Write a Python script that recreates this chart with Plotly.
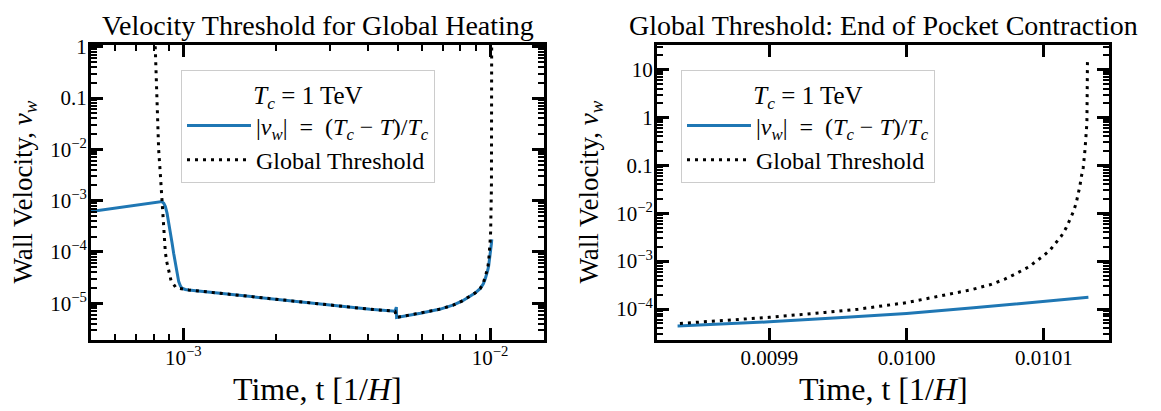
import plotly.graph_objects as go

# ---------------- data ----------------
# |v_w| = (T_c - T)/T_c   (time in units of 1/H)
t_vw = [5.0e-4, 8.52e-4, 8.64e-4, 8.74e-4, 8.85e-4, 8.96e-4, 9.07e-4, 9.19e-4,
        9.30e-4, 9.42e-4, 9.49e-4, 9.58e-4, 9.66e-4, 9.78e-4, 9.90e-4, 1.015e-3,
        1.041e-3, 4.07e-3, 4.90e-3, 4.95e-3, 4.96e-3,
        5.93e-3, 6.89e-3, 7.61e-3, 8.12e-3, 8.63e-3, 8.96e-3, 9.30e-3, 9.51e-3,
        9.65e-3, 9.75e-3,
        0.0098332, 0.0099, 0.0099501, 0.0100, 0.0100489, 0.0101, 0.0101325]
v_vw = [6.12e-4, 9.6e-4, 8.86e-4, 7.67e-4, 5.70e-4, 3.86e-4, 2.32e-4, 1.50e-4,
        9.46e-5, 6.11e-5, 4.47e-5, 3.31e-5, 2.64e-5, 2.20e-5, 1.96e-5, 1.86e-5,
        1.82e-5, 7.63e-6, 7.0e-6, 8.4e-6, 5.3e-6,
        6.38e-6, 7.7e-6, 9.27e-6, 1.11e-5, 1.39e-5, 1.6e-5, 1.95e-5, 2.4e-5,
        3.0e-5, 3.6e-5,
        4.4e-5, 5.4e-5, 6.6e-5, 8.1e-5, 1.06e-4, 1.42e-4, 1.75e-4]

# Global threshold
t_thr = [8.05e-4, 8.10e-4, 8.17e-4, 8.24e-4, 8.31e-4, 8.41e-4, 8.48e-4, 8.52e-4,
         8.59e-4, 8.67e-4, 8.74e-4, 8.85e-4, 8.96e-4, 9.12e-4, 9.47e-4, 1.0e-3,
         1.041e-3, 4.07e-3, 4.90e-3, 4.96e-3, 5.93e-3, 6.89e-3, 7.61e-3, 8.12e-3,
         8.63e-3, 8.96e-3, 9.30e-3, 9.51e-3, 9.65e-3, 9.75e-3,
         0.0098349, 0.0099, 0.0099405, 0.0099646, 0.0099995, 0.0100296, 0.0100465,
         0.0100607, 0.0100716, 0.0100776, 0.0100837, 0.0100892, 0.0100945,
         0.0100996, 0.0101046, 0.010109, 0.0101128, 0.0101162, 0.0101191,
         0.0101215, 0.0101236, 0.0101251, 0.0101263, 0.0101273, 0.0101287,
         0.01013, 0.0101307, 0.0101314, 0.0101316, 0.0101318]
v_thr = [3.0, 0.96, 0.168, 0.0377, 9.8e-3, 3.48e-3, 1.62e-3, 6.6e-4,
         3.13e-4, 1.5e-4, 9.6e-5, 6.1e-5, 4.14e-5, 2.76e-5, 2.0e-5, 1.88e-5,
         1.82e-5, 7.63e-6, 7.0e-6, 5.3e-6, 6.38e-6, 7.7e-6, 9.27e-6, 1.11e-5,
         1.39e-5, 1.6e-5, 1.95e-5, 2.5e-5, 3.3e-5, 4.0e-5,
         5.0e-5, 6.7e-5, 8.5e-5, 9.9e-5, 1.35e-4, 1.96e-4, 2.5e-4,
         3.2e-4, 4.2e-4, 5.1e-4, 6.3e-4, 7.6e-4, 1.0e-3,
         1.28e-3, 1.71e-3, 2.39e-3, 3.34e-3, 4.9e-3, 7.2e-3,
         0.0106, 0.0163, 0.025, 0.037, 0.057, 0.088,
         0.21, 0.47, 0.76, 3.0, 14.6]

zoom_tmin = 0.00983   # start of the zoomed (right) panel

left_xtick_vals = [1e-3, 1e-2]
left_xtick_text = ["10<sup>−3</sup>", "10<sup>−2</sup>"]
left_ytick_vals = [1e-5, 1e-4, 1e-3, 1e-2, 0.1, 1]
left_ytick_text = ["10<sup>−5</sup>", "10<sup>−4</sup>", "10<sup>−3</sup>",
                   "10<sup>−2</sup>", "0.1", "1"]
right_xtick_vals = [0.0099, 0.0100, 0.0101]
right_xtick_text = ["0.0099", "0.0100", "0.0101"]
right_ytick_vals = [1e-4, 1e-3, 1e-2, 0.1, 1, 10]
right_ytick_text = ["10<sup>−4</sup>", "10<sup>−3</sup>", "10<sup>−2</sup>",
                    "0.1", "1", "10"]

titles = ["Velocity Threshold for Global Heating",
          "Global Threshold: End of Pocket Contraction"]
xlabel = "Time, t [1/<i>H</i>]"
ylabel = "Wall Velocity, <i>v</i><sub><i>w</i></sub>"
legend_title = "<i>T</i><sub><i>c</i></sub> = 1 TeV"
name_vw = ("|<i>v</i><sub><i>w</i></sub>|\u2002=\u2002(<i>T</i><sub><i>c</i></sub>"
           " − <i>T</i>)/<i>T</i><sub><i>c</i></sub>")
name_thr = "Global Threshold"

# ---------------- figure ----------------
OFF = 8                      # page body margin of the html page
W, H = 1161 - OFF, 411 - OFF
FONT = "Liberation Serif, Times New Roman, serif"
BLUE = "#1f77b4"


def px_x(p):
    return (p - OFF) / W


def px_y(p):
    return 1 - (p - OFF) / H


def log_minor(lo, hi):
    return [k * 10.0 ** n for n in range(lo, hi) for k in range(2, 10)]


sub_t_vw = [t for t in t_vw if t >= zoom_tmin]
sub_v_vw = [v for t, v in zip(t_vw, v_vw) if t >= zoom_tmin]
sub_t_thr = [t for t in t_thr if t >= zoom_tmin]
sub_v_thr = [v for t, v in zip(t_thr, v_thr) if t >= zoom_tmin]

fig = go.Figure()
line_vw = dict(color=BLUE, width=3)
line_thr = dict(color="black", width=3, dash="3px,5px")

fig.add_trace(go.Scatter(x=t_vw, y=v_vw, mode="lines", line=line_vw, name=name_vw,
                         xaxis="x", yaxis="y", legend="legend"))
fig.add_trace(go.Scatter(x=t_thr, y=v_thr, mode="lines", line=line_thr, name=name_thr,
                         xaxis="x", yaxis="y", legend="legend"))
fig.add_trace(go.Scatter(x=sub_t_vw, y=sub_v_vw, mode="lines", line=line_vw, name=name_vw,
                         xaxis="x2", yaxis="y2", legend="legend2"))
fig.add_trace(go.Scatter(x=sub_t_thr, y=sub_v_thr, mode="lines", line=line_thr, name=name_thr,
                         xaxis="x2", yaxis="y2", legend="legend2"))

px_l, px_r = 91, 544
px2_l, px2_r = 657, 1109
py_t, py_b = 45, 340
ydom = [px_y(py_b), px_y(py_t)]

common = dict(showline=True, linewidth=3, linecolor="black", mirror="allticks",
              ticks="inside", ticklen=12, tickwidth=2.5, tickcolor="black",
              showgrid=False, zeroline=False, ticklabelstandoff=-3,
              tickfont=dict(family=FONT, size=21, color="black"),
              automargin=False)
minor = dict(ticks="inside", ticklen=6, tickwidth=1.5, tickcolor="black",
             tickmode="array", showgrid=False)

fig.update_layout(
    width=W, height=H,
    margin=dict(l=0, r=0, t=0, b=0),
    paper_bgcolor="white", plot_bgcolor="white",
    font=dict(family=FONT, color="black"),
    xaxis=dict(common, type="log", domain=[px_x(px_l), px_x(px_r)],
               range=[-3.301, -1.824], anchor="y",
               tickmode="array", tickvals=left_xtick_vals, ticktext=left_xtick_text,
               minor=dict(minor, tickvals=log_minor(-4, -1))),
    yaxis=dict(common, type="log", domain=ydom, range=[-5.716, 0.034], anchor="x",
               tickmode="array", tickvals=left_ytick_vals, ticktext=left_ytick_text,
               minor=dict(minor, tickvals=log_minor(-6, 1))),
    xaxis2=dict(common, type="linear", domain=[px_x(px2_l), px_x(px2_r)],
                range=[0.0098182, 0.0101475], anchor="y2",
                tickmode="array", tickvals=right_xtick_vals, ticktext=right_xtick_text),
    yaxis2=dict(common, type="log", domain=ydom, range=[-4.647, 1.511], anchor="x2",
                tickmode="array", tickvals=right_ytick_vals, ticktext=right_ytick_text,
                minor=dict(minor, tickvals=log_minor(-5, 2))),
)

leg_common = dict(xanchor="left", yanchor="top",
                  title=dict(text=legend_title, side="top center",
                             font=dict(family=FONT, size=25, color="black")),
                  font=dict(family=FONT, size=24, color="black"),
                  bordercolor="#cccccc", borderwidth=1,
                  bgcolor="rgba(255,255,255,0.8)", itemwidth=64)
fig.update_layout(
    legend=dict(leg_common, x=px_x(181), y=px_y(70)),
    legend2=dict(leg_common, x=px_x(681), y=px_y(70)),
)

annotations = []
for i, (l, r) in enumerate([(px_l, px_r), (px2_l, px2_r)]):
    cx = px_x((l + r) / 2)
    annotations.append(dict(text=titles[i], x=cx, y=px_y(26), xref="paper", yref="paper",
                            xanchor="center", yanchor="middle", showarrow=False,
                            font=dict(family=FONT, size=28, color="black")))
    annotations.append(dict(text=xlabel, x=cx, y=px_y(389), xref="paper", yref="paper",
                            xanchor="center", yanchor="middle", showarrow=False,
                            font=dict(family=FONT, size=32, color="black")))
    annotations.append(dict(text=ylabel, x=px_x(l - 66), y=(ydom[0] + ydom[1]) / 2,
                            xref="paper", yref="paper", textangle=-90,
                            xanchor="center", yanchor="middle", showarrow=False,
                            font=dict(family=FONT, size=27, color="black")))
fig.update_layout(annotations=annotations)

fig.write_html("out.html")
